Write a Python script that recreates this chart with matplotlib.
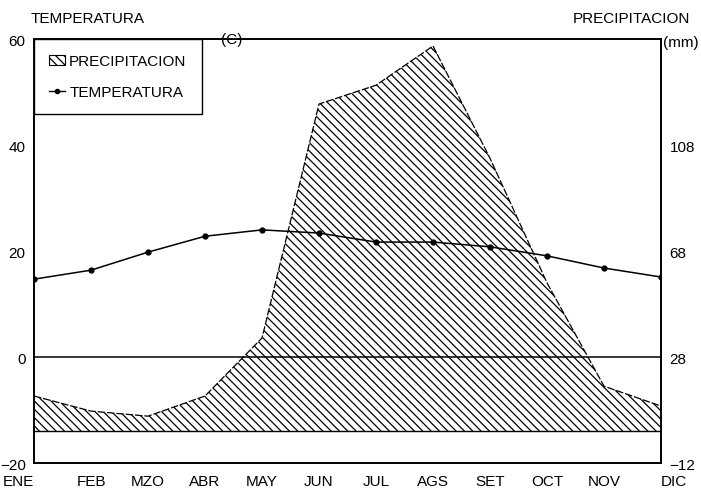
import matplotlib
matplotlib.use("Agg")
import matplotlib.pyplot as plt
from matplotlib.patches import Patch
from matplotlib.lines import Line2D

plt.rcParams["font.family"] = ["Liberation Sans", "DejaVu Sans"]
plt.rcParams["hatch.linewidth"] = 0.9

# Datos
meses = ["ENE", "FEB", "MZO", "ABR", "MAY", "JUN",
         "JUL", "AGS", "SET", "OCT", "NOV", "DIC"]
temperatura = [14.7, 16.4, 19.8, 22.8, 24.0, 23.4,
               21.7, 21.7, 20.8, 19.1, 16.8, 15.1]
precipitacion = [13.3, 7.6, 5.7, 13.3, 35.2, 123.5,
                 130.6, 145.4, 103.0, 56.0, 17.0, 9.5]

temp_ticks = [-20, 0, 20, 40, 60]
prec_ticks = [-12, 28, 68, 108]

x = list(range(len(meses)))

fig = plt.figure(figsize=(7.01, 4.89), dpi=100)
ax = fig.add_axes([0.0485, 0.051, 0.8945, 0.867])
ax2 = ax.twinx()

# Precipitacion (eje derecho)
ax2.fill_between(x, 0, precipitacion, facecolor="white", edgecolor="black",
                 hatch="\\\\\\\\", linewidth=0, zorder=1)
ax2.plot(x, precipitacion, color="black", linewidth=0.9, linestyle=(0, (6, 1.5)))
ax2.axhline(0, color="black", linewidth=1.0)
ax2.set_ylim(-12, 148)
ax2.set_yticks(prec_ticks)
ax2.tick_params(axis="y", length=0, labelsize=11, pad=6)

# Temperatura (eje izquierdo), dibujada encima
ax.set_zorder(ax2.get_zorder() + 1)
ax.patch.set_visible(False)
ax.plot(x, temperatura, color="black", linewidth=1.1, marker="o", markersize=3.5)
ax.axhline(0, color="black", linewidth=1.1)
ax.set_ylim(-20, 60)
ax.set_yticks(temp_ticks)
ax.set_xlim(0, len(meses) - 1)
ax.set_xticks(x)
ax.set_xticklabels(meses)
ax.tick_params(axis="x", length=0, labelsize=11, pad=8)
ax.tick_params(axis="y", length=0, labelsize=11, pad=6)
xl = ax.get_xticklabels()
xl[0].set_ha("right")
xl[-1].set_ha("left")

for a in (ax, ax2):
    for s in a.spines.values():
        s.set_linewidth(1.2)
        s.set_color("black")

# Textos
fig.text(0.043, 0.962, "TEMPERATURA", fontsize=11, ha="left", va="center")
fig.text(0.985, 0.962, "PRECIPITACION", fontsize=11, ha="right", va="center")
fig.text(0.33, 0.918, "(C)", fontsize=11, ha="center", va="center")
fig.text(0.946, 0.913, "(mm)", fontsize=11, ha="left", va="center")

# Leyenda
handles = [Patch(facecolor="white", edgecolor="black", hatch="\\\\\\\\", linewidth=0.8),
           Line2D([0], [0], color="black", marker="o", markersize=3, linewidth=1)]
leg = ax.legend(handles, ["PRECIPITACION", "TEMPERATURA"], loc="upper left",
                borderaxespad=0, fancybox=False, edgecolor="black", fontsize=11,
                handlelength=1.0, handletextpad=0.3, borderpad=1.0, labelspacing=1.1)
leg.get_frame().set_linewidth(1.0)
leg.get_frame().set_alpha(1)

fig.savefig("out.png", dpi=100)
